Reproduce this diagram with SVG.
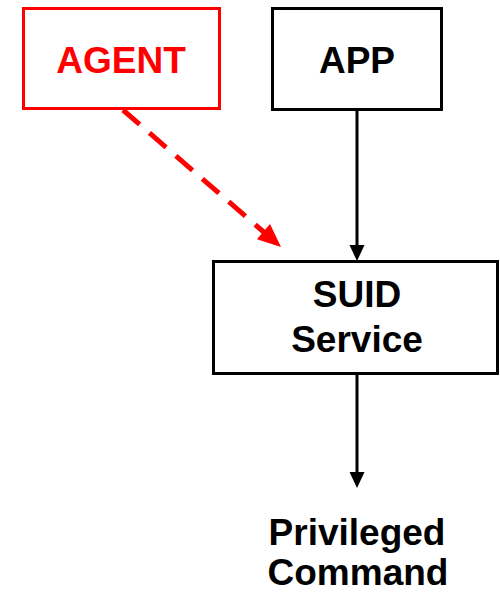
<svg xmlns="http://www.w3.org/2000/svg" width="500" height="592" viewBox="0 0 500 592">
<style>
.t{font-family:"Liberation Sans",Arial,sans-serif;font-weight:bold;font-size:37px;text-anchor:middle}
.box{fill:#fff;stroke:#000;stroke-width:3}
</style>
<rect width="500" height="592" fill="#fff"/>
<g id="connectors">
<line x1="123" y1="110" x2="266" y2="234" stroke="#f00" stroke-width="5" stroke-dasharray="22,13"/>
<polygon points="281,247 256.9,239.2 270,224" fill="#f00"/>
<line x1="357" y1="110" x2="357" y2="248" stroke="#000" stroke-width="3"/>
<polygon points="357,261 349.5,245 364.5,245" fill="#000"/>
<line x1="357" y1="374" x2="357" y2="475" stroke="#000" stroke-width="3"/>
<polygon points="357,488 349.5,472 364.5,472" fill="#000"/>
</g>
<g id="agent">
<rect x="23.5" y="8.5" width="196" height="100" fill="#fff" stroke="#f00" stroke-width="3"/>
<text class="t" x="121" y="73" fill="#f00">AGENT</text>
</g>
<g id="app">
<rect class="box" x="272.5" y="8.5" width="169" height="101"/>
<text class="t" x="357" y="73">APP</text>
</g>
<g id="suid">
<rect class="box" x="213.5" y="261.5" width="284" height="112"/>
<text class="t" x="357" y="307">SUID</text>
<text class="t" x="357" y="352">Service</text>
</g>
<g id="privileged">
<text class="t" x="357" y="545">Privileged</text>
<text class="t" x="358" y="585">Command</text>
</g>
</svg>
